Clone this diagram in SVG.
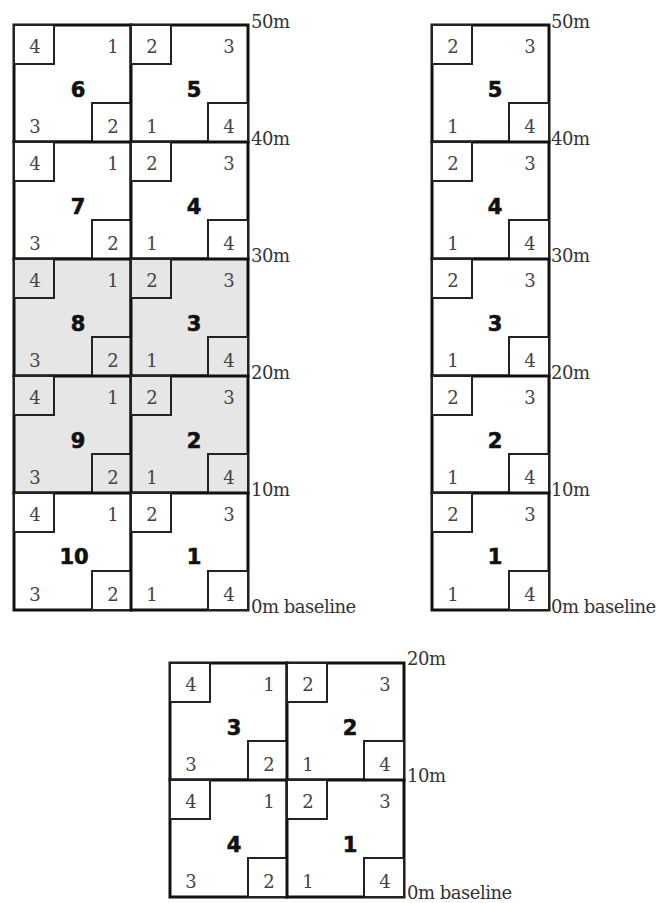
<svg xmlns="http://www.w3.org/2000/svg" width="656" height="903" viewBox="0 0 656 903">
<style>
.bg{fill:#fff}
.cell{fill:#fff;stroke:#111;stroke-width:3}
.sh .cell,.sh .box{fill:#e6e6e6}
.box{fill:#fff;stroke:#222;stroke-width:2}
.d{font-family:"DejaVu Serif","Liberation Serif",serif;font-size:18px;fill:#444;text-anchor:middle}
.n{font-family:"DejaVu Sans",sans-serif;font-weight:bold;font-size:21px;fill:#111;stroke:#111;stroke-width:0.6;text-anchor:middle}
.lbl{font-family:"DejaVu Serif","Liberation Serif",serif;font-size:18px;fill:#333;letter-spacing:-0.5px}
</style>
<defs>
<g id="cellA">
<rect class="cell" x="0" y="0" width="117" height="117"/>
<rect class="box" x="0" y="0" width="40" height="39"/>
<rect class="box" x="78" y="78" width="39" height="39"/>
<text class="d" x="21" y="28">4</text>
<text class="d" x="99" y="28">1</text>
<text class="d" x="21" y="108">3</text>
<text class="d" x="99" y="108">2</text>
</g>
<g id="cellB">
<rect class="cell" x="0" y="0" width="117" height="117"/>
<rect class="box" x="0" y="0" width="40" height="39"/>
<rect class="box" x="77" y="78" width="40" height="39"/>
<text class="d" x="21" y="28">2</text>
<text class="d" x="98" y="28">3</text>
<text class="d" x="21" y="108">1</text>
<text class="d" x="98" y="108">4</text>
</g>
</defs>
<rect class="bg" x="0" y="0" width="656" height="903"/>

<g id="grid-left">
<g id="L6" transform="translate(14,25)"><use href="#cellA"/><text class="n" x="64" y="72">6</text></g>
<g id="L5" transform="translate(131,25)"><use href="#cellB"/><text class="n" x="63" y="72">5</text></g>
<g id="L7" transform="translate(14,142)"><use href="#cellA"/><text class="n" x="64" y="72">7</text></g>
<g id="L4" transform="translate(131,142)"><use href="#cellB"/><text class="n" x="63" y="72">4</text></g>
<g id="L8" class="sh" transform="translate(14,259)"><rect class="cell" x="0" y="0" width="117" height="117"/><rect class="box" x="0" y="0" width="40" height="39"/><rect class="box" x="78" y="78" width="39" height="39"/><text class="d" x="21" y="28">4</text><text class="d" x="99" y="28">1</text><text class="d" x="21" y="108">3</text><text class="d" x="99" y="108">2</text><text class="n" x="64" y="72">8</text></g>
<g id="L3" class="sh" transform="translate(131,259)"><rect class="cell" x="0" y="0" width="117" height="117"/><rect class="box" x="0" y="0" width="40" height="39"/><rect class="box" x="77" y="78" width="40" height="39"/><text class="d" x="21" y="28">2</text><text class="d" x="98" y="28">3</text><text class="d" x="21" y="108">1</text><text class="d" x="98" y="108">4</text><text class="n" x="63" y="72">3</text></g>
<g id="L9" class="sh" transform="translate(14,376)"><rect class="cell" x="0" y="0" width="117" height="117"/><rect class="box" x="0" y="0" width="40" height="39"/><rect class="box" x="78" y="78" width="39" height="39"/><text class="d" x="21" y="28">4</text><text class="d" x="99" y="28">1</text><text class="d" x="21" y="108">3</text><text class="d" x="99" y="108">2</text><text class="n" x="64" y="72">9</text></g>
<g id="L2" class="sh" transform="translate(131,376)"><rect class="cell" x="0" y="0" width="117" height="117"/><rect class="box" x="0" y="0" width="40" height="39"/><rect class="box" x="77" y="78" width="40" height="39"/><text class="d" x="21" y="28">2</text><text class="d" x="98" y="28">3</text><text class="d" x="21" y="108">1</text><text class="d" x="98" y="108">4</text><text class="n" x="63" y="72">2</text></g>
<g id="L10" transform="translate(14,493)"><use href="#cellA"/><text class="n" x="60" y="71">10</text></g>
<g id="L1" transform="translate(131,493)"><use href="#cellB"/><text class="n" x="63" y="71">1</text></g>
<g id="labels-left">
<text class="lbl" x="251" y="28">50m</text>
<text class="lbl" x="251" y="145">40m</text>
<text class="lbl" x="251" y="262">30m</text>
<text class="lbl" x="251" y="379">20m</text>
<text class="lbl" x="251" y="496">10m</text>
<text class="lbl" x="251" y="613">0m baseline</text>
</g>
</g>

<g id="grid-right">
<g id="R5" transform="translate(432,25)"><use href="#cellB"/><text class="n" x="63" y="72">5</text></g>
<g id="R4" transform="translate(432,142)"><use href="#cellB"/><text class="n" x="63" y="72">4</text></g>
<g id="R3" transform="translate(432,259)"><use href="#cellB"/><text class="n" x="63" y="72">3</text></g>
<g id="R2" transform="translate(432,376)"><use href="#cellB"/><text class="n" x="63" y="72">2</text></g>
<g id="R1" transform="translate(432,493)"><use href="#cellB"/><text class="n" x="63" y="71">1</text></g>
<g id="labels-right">
<text class="lbl" x="551" y="28">50m</text>
<text class="lbl" x="551" y="145">40m</text>
<text class="lbl" x="551" y="262">30m</text>
<text class="lbl" x="551" y="379">20m</text>
<text class="lbl" x="551" y="496">10m</text>
<text class="lbl" x="551" y="613">0m baseline</text>
</g>
</g>

<g id="grid-bottom">
<g id="B3" transform="translate(170,663)"><use href="#cellA"/><text class="n" x="64" y="72">3</text></g>
<g id="B2" transform="translate(287,663)"><use href="#cellB"/><text class="n" x="63" y="72">2</text></g>
<g id="B4" transform="translate(170,780)"><use href="#cellA"/><text class="n" x="64" y="72">4</text></g>
<g id="B1" transform="translate(287,780)"><use href="#cellB"/><text class="n" x="63" y="72">1</text></g>
<g id="labels-bottom">
<text class="lbl" x="407" y="665">20m</text>
<text class="lbl" x="407" y="782">10m</text>
<text class="lbl" x="407" y="899">0m baseline</text>
</g>
</g>

<g id="connectors"></g>
</svg>
